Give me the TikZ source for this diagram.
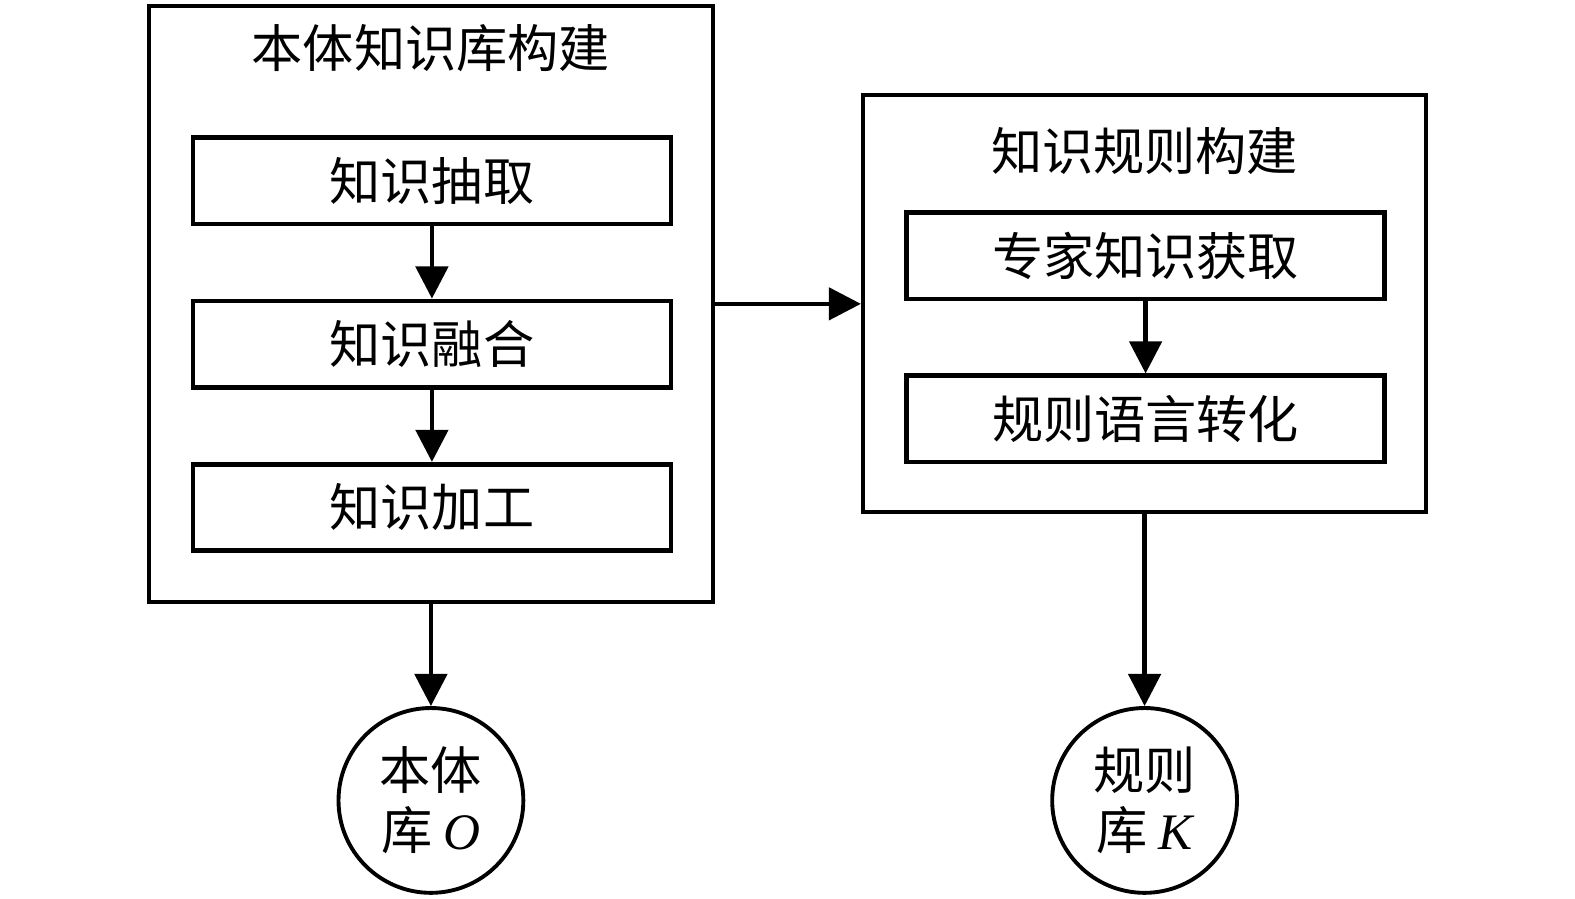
\documentclass[tikz,border=0pt]{standalone}
\usepackage{fontspec}
\setmainfont{Liberation Serif}
\newfontfamily\cjk{Noto Sans CJK SC}
\usetikzlibrary{arrows.meta, positioning}
\tikzset{
    outerbox/.style={
        rectangle, draw=black, line width=1.1pt, inner sep=0pt
    },
    stepbox/.style={
        rectangle, draw=black, line width=1.3pt, minimum width=4.76cm,
        minimum height=0.86cm, inner sep=0pt, font=\cjk\fontsize{14.5}{17}\selectfont
    },
    boxtitle/.style={
        inner sep=0pt, font=\cjk\fontsize{14.5}{17}\selectfont
    },
    library/.style={
        circle, draw=black, line width=1.1pt, minimum size=1.84cm, inner sep=0pt,
        align=center, font=\cjk\fontsize{14.5}{17}\selectfont
    },
    arrow/.style={
        -{Triangle[width=0.32cm, length=0.32cm]}, line width=1.3pt, draw=black
    }
}
\begin{document}
\begin{tikzpicture}
    \useasboundingbox (0,0.04) rectangle (15.68,8.98);

    % ── Ontology knowledge base ──
    \node[outerbox, minimum width=5.62cm, minimum height=5.93cm] (ontobox) at (4.29,5.955) {};
    \node[boxtitle] (ontotitle) at (4.29,8.50) {本体知识库构建};

    \node[stepbox] (extract) at (4.30,7.18)           {知识抽取};
    \node[stepbox, below=0.72cm of extract] (fuse)    {知识融合};
    \node[stepbox, below=0.72cm of fuse]    (refine)  {知识加工};

    % ── Knowledge rules ──
    \node[outerbox, minimum width=5.61cm, minimum height=4.15cm] (rulebox) at (11.395,5.955) {};
    \node[boxtitle] (ruletitle) at (11.395,7.48) {知识规则构建};

    \node[stepbox] (expert) at (11.405,6.435)         {专家知识获取};
    \node[stepbox, below=0.72cm of expert] (convert)  {规则语言转化};

    % ── Libraries ──
    \node[library, below=1.02cm of ontobox] (ontolib) {本体\\库 {\rmfamily\itshape O}};
    \node[library, below=1.91cm of rulebox] (rulelib) {规则\\库 {\rmfamily\itshape K}};

    % ── Arrows ──
    \draw[arrow] (extract) -- (fuse);
    \draw[arrow] (fuse)    -- (refine);
    \draw[arrow] (expert)  -- (convert);
    \draw[arrow] (ontobox) -- (rulebox);
    \draw[arrow] (ontobox) -- (ontolib);
    \draw[arrow] (rulebox) -- (rulelib);

\end{tikzpicture}
\end{document}
